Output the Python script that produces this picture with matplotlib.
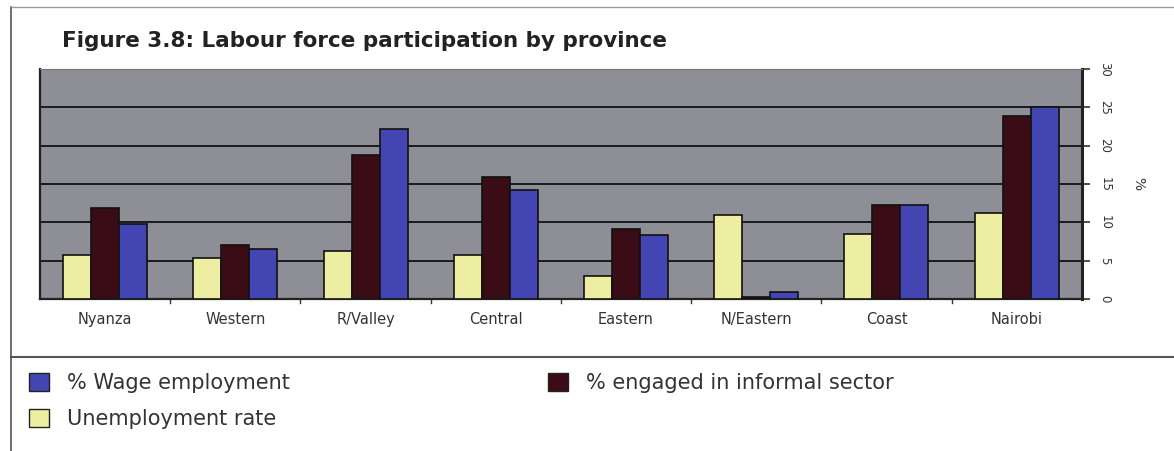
import numpy as np
import matplotlib
matplotlib.use('Agg')
import matplotlib.pyplot as plt
from matplotlib.patches import Patch
from matplotlib.lines import Line2D

plt.rcParams['font.family'] = ['DejaVu Sans']

# Provinces and their values (%)
provinces = ['Nyanza', 'Western', 'R/Valley', 'Central', 'Eastern', 'N/Eastern', 'Coast', 'Nairobi']
unemployment = [5.7, 5.4, 6.3, 5.7, 3.0, 11.0, 8.5, 11.2]
informal = [11.9, 7.1, 18.8, 15.9, 9.1, 0.3, 12.2, 23.9]
wage = [9.8, 6.5, 22.2, 14.2, 8.4, 0.9, 12.2, 25.0]

c_unemp = '#eeeea2'
c_inf = '#3a0c16'
c_wage = '#4346b2'
bg = '#8d8e96'

fig = plt.figure(figsize=(11.74, 4.51), dpi=100)
ax = fig.add_axes([0.034, 0.337, 0.8875, 0.51])
ax.set_facecolor(bg)

x = np.arange(len(provinces))
w = 0.215
ax.bar(x - w, unemployment, w, color=c_unemp, edgecolor='#111111', linewidth=1.2, zorder=3)
ax.bar(x, informal, w, color=c_inf, edgecolor='#111111', linewidth=1.2, zorder=3)
ax.bar(x + w, wage, w, color=c_wage, edgecolor='#111111', linewidth=1.2, zorder=3)

ax.set_xlim(-0.5, len(provinces) - 0.5)
ax.set_ylim(0, 30)
ax.set_yticks(range(0, 31, 5))
ax.yaxis.tick_right()
ax.yaxis.set_label_position('right')
ax.tick_params(axis='y', length=6, width=1.2, colors='#333333', labelsize=8.5, pad=6)
for lab in ax.get_yticklabels():
    lab.set_rotation(-90)
    lab.set_va('center')
ax.set_ylabel('%', rotation=-90, fontsize=10, labelpad=24, color='#333333')

ax.set_xticks(x)
ax.set_xticklabels(provinces, fontsize=10.5, color='#333333')
ax.tick_params(axis='x', length=0, pad=9)
# small separators between categories
for xi in np.arange(0.5, len(provinces) - 1, 1.0):
    ax.plot([xi, xi], [0, -0.5], color='#333333', lw=1, clip_on=False)

ax.yaxis.grid(True, color='#1a1a1a', linewidth=1.4, zorder=1)
ax.set_axisbelow(True)
for side in ['left', 'bottom', 'right']:
    ax.spines[side].set_color('#222222')
    ax.spines[side].set_linewidth(1.6)
ax.spines['right'].set_linewidth(2.2)
ax.spines['top'].set_color('#777777')

fig.text(0.053, 0.91, 'Figure 3.8: Labour force participation by province',
         fontsize=15.5, fontweight='heavy', color='#222222', va='center')

# frame lines around the figure
fig.add_artist(Line2D([0.009, 0.009], [0, 0.985], color='#555555', lw=1.2))
fig.add_artist(Line2D([0.009, 1.0], [0.985, 0.985], color='#999999', lw=1.0))
fig.add_artist(Line2D([0.009, 1.0], [0.208, 0.208], color='#555555', lw=1.5))

handles = [Patch(facecolor=c_wage, edgecolor='#222222'),
           Patch(facecolor=c_unemp, edgecolor='#222222'),
           Patch(facecolor=c_inf, edgecolor='#222222')]
labels = ['% Wage employment', 'Unemployment rate', '% engaged in informal sector']
fig.legend(handles, labels, ncol=2, loc='upper left', bbox_to_anchor=(0.009, 0.215),
           frameon=False, fontsize=15, columnspacing=12.4, handlelength=0.95,
           handleheight=0.95, handletextpad=0.85, labelspacing=0.75, labelcolor='#333333')

fig.savefig('out.png', dpi=100)
